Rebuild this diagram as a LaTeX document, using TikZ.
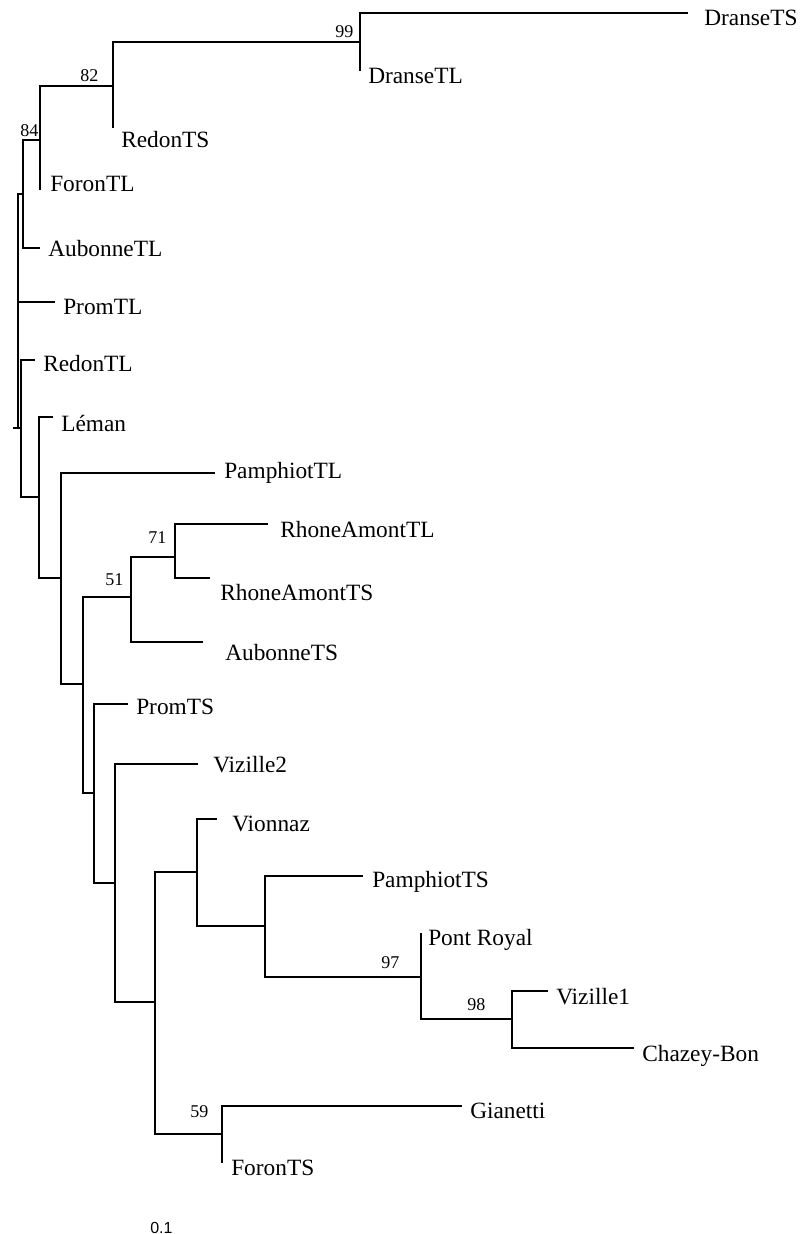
\documentclass[tikz,border=0pt]{standalone}
\usepackage{fontspec}
\setmainfont{Liberation Serif}
\newfontfamily\scalebarfont{Liberation Sans}

\begin{document}
\begin{tikzpicture}[
  x=0.75pt, y=-0.75pt,
  branch/.style={line width=1.1pt},
  taxon/.style={anchor=base west, inner sep=0pt, font=\fontsize{17.5}{20}\selectfont},
  boot/.style={anchor=base west, inner sep=0pt, font=\fontsize{13.5}{15}\selectfont}
]
\useasboundingbox (0,0) rectangle (803,1234);

% Internal nodes
\coordinate (stem) at (13,428);
\coordinate (root) at (18,428);
\coordinate (c1) at (23,194);
\coordinate (n84) at (40,140);
\coordinate (n82) at (113,86);
\coordinate (n99) at (360,42);
\coordinate (c2) at (21,428);
\coordinate (c3) at (39,497);
\coordinate (c4) at (61,578);
\coordinate (c5) at (83,684);
\coordinate (n51) at (131,597);
\coordinate (n71) at (175,557);
\coordinate (c6) at (94,793);
\coordinate (c7) at (115,883);
\coordinate (c8) at (155,1002);
\coordinate (c9) at (197,872);
\coordinate (c10) at (265,926);
\coordinate (n97) at (421,977);
\coordinate (n98) at (512,1019);
\coordinate (n59) at (222,1134);

% Branch tips
\coordinate (tDranseTS) at (688,13);
\coordinate (tDranseTL) at (360,71);
\coordinate (tRedonTS) at (113,128);
\coordinate (tForonTL) at (40,190);
\coordinate (tAubonneTL) at (40,248);
\coordinate (tPromTL) at (55,302);
\coordinate (tRedonTL) at (35,360);
\coordinate (tLeman) at (53,417);
\coordinate (tPamphiotTL) at (215,473);
\coordinate (tRhoneAmontTL) at (268,524);
\coordinate (tRhoneAmontTS) at (210,578);
\coordinate (tAubonneTS) at (203,642);
\coordinate (tPromTS) at (128,704);
\coordinate (tVizilleB) at (198,764);
\coordinate (tVionnaz) at (217,819);
\coordinate (tPamphiotTS) at (363,876);
\coordinate (tPontRoyal) at (421,933);
\coordinate (tVizilleA) at (548,991);
\coordinate (tChazeyBon) at (634,1048);
\coordinate (tGianetti) at (462,1106);
\coordinate (tForonTS) at (222,1163);

% Taxon labels
\node[taxon] (DranseTS) at (704,26) {DranseTS};
\node[taxon] (DranseTL) at (368,84) {DranseTL};
\node[taxon] (RedonTS) at (121,148) {RedonTS};
\node[taxon] (ForonTL) at (50,191) {ForonTL};
\node[taxon] (AubonneTL) at (48,256) {AubonneTL};
\node[taxon] (PromTL) at (63,314) {PromTL};
\node[taxon] (RedonTL) at (43,371) {RedonTL};
\node[taxon] (Leman) at (61,431) {Léman};
\node[taxon] (PamphiotTL) at (224,478) {PamphiotTL};
\node[taxon] (RhoneAmontTL) at (280,537) {RhoneAmontTL};
\node[taxon] (RhoneAmontTS) at (220,600) {RhoneAmontTS};
\node[taxon] (AubonneTS) at (225,660) {AubonneTS};
\node[taxon] (PromTS) at (136,714) {PromTS};
\node[taxon] (VizilleB) at (213,772) {Vizille2};
\node[taxon] (Vionnaz) at (232,831) {Vionnaz};
\node[taxon] (PamphiotTS) at (372,887) {PamphiotTS};
\node[taxon] (PontRoyal) at (428,945) {Pont Royal};
\node[taxon] (VizilleA) at (556,1004) {Vizille1};
\node[taxon] (ChazeyBon) at (642,1061) {Chazey-Bon};
\node[taxon] (Gianetti) at (470,1118) {Gianetti};
\node[taxon] (ForonTS) at (231,1175) {ForonTS};

% Bootstrap values
\node[boot] (b99) at (335,38) {99};
\node[boot] (b82) at (80,82) {82};
\node[boot] (b84) at (20,137) {84};
\node[boot] (b71) at (148,543) {71};
\node[boot] (b51) at (105,585) {51};
\node[boot] (b97) at (381,968) {97};
\node[boot] (b98) at (467,1010) {98};
\node[boot] (b59) at (190,1117) {59};

% Scale
\node[anchor=base west, inner sep=0pt, font=\scalebarfont\fontsize{12}{14}\selectfont] (scale) at (150,1233) {0.1};

% Upper clade
\draw[branch] (stem) -- (root);
\draw[branch] (root) |- (c1);
\draw[branch] (root) |- (tPromTL);
\draw[branch] (root) |- (c2);
\draw[branch] (c1) |- (n84);
\draw[branch] (c1) |- (tAubonneTL);
\draw[branch] (n84) |- (n82);
\draw[branch] (n84) |- (tForonTL);
\draw[branch] (n82) |- (n99);
\draw[branch] (n82) |- (tRedonTS);
\draw[branch] (n99) |- (tDranseTS);
\draw[branch] (n99) |- (tDranseTL);

% Lower clade
\draw[branch] (c2) |- (tRedonTL);
\draw[branch] (c2) |- (c3);
\draw[branch] (c3) |- (tLeman);
\draw[branch] (c3) |- (c4);
\draw[branch] (c4) |- (tPamphiotTL);
\draw[branch] (c4) |- (c5);
\draw[branch] (c5) |- (n51);
\draw[branch] (c5) |- (c6);
\draw[branch] (n51) |- (n71);
\draw[branch] (n51) |- (tAubonneTS);
\draw[branch] (n71) |- (tRhoneAmontTL);
\draw[branch] (n71) |- (tRhoneAmontTS);
\draw[branch] (c6) |- (tPromTS);
\draw[branch] (c6) |- (c7);
\draw[branch] (c7) |- (tVizilleB);
\draw[branch] (c7) |- (c8);
\draw[branch] (c8) |- (c9);
\draw[branch] (c8) |- (n59);
\draw[branch] (c9) |- (tVionnaz);
\draw[branch] (c9) |- (c10);
\draw[branch] (c10) |- (tPamphiotTS);
\draw[branch] (c10) |- (n97);
\draw[branch] (n97) |- (tPontRoyal);
\draw[branch] (n97) |- (n98);
\draw[branch] (n98) |- (tVizilleA);
\draw[branch] (n98) |- (tChazeyBon);
\draw[branch] (n59) |- (tGianetti);
\draw[branch] (n59) |- (tForonTS);

\end{tikzpicture}
\end{document}
